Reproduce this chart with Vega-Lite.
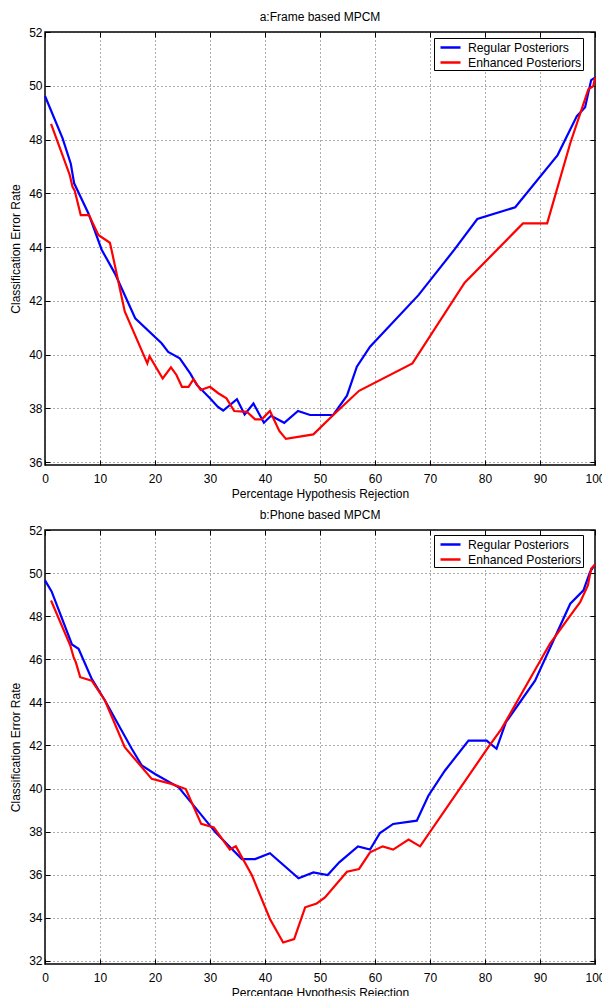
{
  "$schema": "https://vega.github.io/schema/vega-lite/v6.json",
  "background": "white",
  "padding": {"left": 8, "top": 10, "right": 9, "bottom": 0},
  "spacing": 8,
  "config": {
    "font": "Liberation Sans",
    "view": {"stroke": "black", "strokeWidth": 1.5},
    "axis": {
      "domain": false,
      "grid": true,
      "gridColor": "#333333",
      "gridDash": [1, 3],
      "gridWidth": 1,
      "gridOpacity": 0.8,
      "ticks": true,
      "tickSize": -5,
      "tickColor": "black",
      "tickWidth": 1,
      "labelFontSize": 12,
      "labelColor": "black",
      "labelPadding": 8,
      "titleFontSize": 12,
      "titleFontWeight": "normal",
      "titleColor": "black",
      "labelFlush": false,
      "labelOverlap": false
    },
    "title": {"fontSize": 12, "fontWeight": "normal", "color": "black", "offset": 2},
    "legend": {
      "orient": "none",
      "legendX": 389,
      "legendY": 6,
      "padding": 1,
      "strokeColor": "black",
      "fillColor": "white",
      "labelFontSize": 12.2,
      "labelColor": "black",
      "symbolType": "M-1.43,0H1.43",
      "symbolSize": 196,
      "symbolStrokeWidth": 2.5,
      "symbolOffset": 7,
      "labelOffset": 9,
      "rowPadding": 0,
      "title": null
    }
  },
  "resolve": {"legend": {"color": "independent"}},
  "datasets": {
    "a": [
      {"x": 0, "y": 49.62, "series": "Regular Posteriors"},
      {"x": 3.2, "y": 48.04, "series": "Regular Posteriors"},
      {"x": 4.7, "y": 47.09, "series": "Regular Posteriors"},
      {"x": 5.3, "y": 46.37, "series": "Regular Posteriors"},
      {"x": 7.9, "y": 45.25, "series": "Regular Posteriors"},
      {"x": 10.3, "y": 43.9, "series": "Regular Posteriors"},
      {"x": 12.7, "y": 43.02, "series": "Regular Posteriors"},
      {"x": 16.4, "y": 41.35, "series": "Regular Posteriors"},
      {"x": 21.2, "y": 40.42, "series": "Regular Posteriors"},
      {"x": 22.4, "y": 40.1, "series": "Regular Posteriors"},
      {"x": 24.5, "y": 39.86, "series": "Regular Posteriors"},
      {"x": 26.4, "y": 39.3, "series": "Regular Posteriors"},
      {"x": 27.6, "y": 38.87, "series": "Regular Posteriors"},
      {"x": 30, "y": 38.37, "series": "Regular Posteriors"},
      {"x": 31.4, "y": 38.06, "series": "Regular Posteriors"},
      {"x": 32.4, "y": 37.91, "series": "Regular Posteriors"},
      {"x": 34.9, "y": 38.34, "series": "Regular Posteriors"},
      {"x": 36.3, "y": 37.77, "series": "Regular Posteriors"},
      {"x": 37.9, "y": 38.18, "series": "Regular Posteriors"},
      {"x": 39.8, "y": 37.46, "series": "Regular Posteriors"},
      {"x": 41.1, "y": 37.72, "series": "Regular Posteriors"},
      {"x": 43.5, "y": 37.46, "series": "Regular Posteriors"},
      {"x": 46, "y": 37.9, "series": "Regular Posteriors"},
      {"x": 48.2, "y": 37.75, "series": "Regular Posteriors"},
      {"x": 52.4, "y": 37.75, "series": "Regular Posteriors"},
      {"x": 54.9, "y": 38.47, "series": "Regular Posteriors"},
      {"x": 56.7, "y": 39.55, "series": "Regular Posteriors"},
      {"x": 59.1, "y": 40.29, "series": "Regular Posteriors"},
      {"x": 67.9, "y": 42.21, "series": "Regular Posteriors"},
      {"x": 74.5, "y": 43.92, "series": "Regular Posteriors"},
      {"x": 78.6, "y": 45.04, "series": "Regular Posteriors"},
      {"x": 85.5, "y": 45.48, "series": "Regular Posteriors"},
      {"x": 93.2, "y": 47.42, "series": "Regular Posteriors"},
      {"x": 96.7, "y": 48.87, "series": "Regular Posteriors"},
      {"x": 98.2, "y": 49.2, "series": "Regular Posteriors"},
      {"x": 99.3, "y": 50.21, "series": "Regular Posteriors"},
      {"x": 100, "y": 50.3, "series": "Regular Posteriors"},
      {"x": 1.1, "y": 48.58, "series": "Enhanced Posteriors"},
      {"x": 4.5, "y": 46.68, "series": "Enhanced Posteriors"},
      {"x": 5.0, "y": 46.24, "series": "Enhanced Posteriors"},
      {"x": 5.4, "y": 46.1, "series": "Enhanced Posteriors"},
      {"x": 6.5, "y": 45.19, "series": "Enhanced Posteriors"},
      {"x": 8.0, "y": 45.19, "series": "Enhanced Posteriors"},
      {"x": 9.7, "y": 44.45, "series": "Enhanced Posteriors"},
      {"x": 11.8, "y": 44.16, "series": "Enhanced Posteriors"},
      {"x": 12.1, "y": 43.89, "series": "Enhanced Posteriors"},
      {"x": 14.5, "y": 41.6, "series": "Enhanced Posteriors"},
      {"x": 18.6, "y": 39.67, "series": "Enhanced Posteriors"},
      {"x": 19, "y": 39.94, "series": "Enhanced Posteriors"},
      {"x": 21.4, "y": 39.11, "series": "Enhanced Posteriors"},
      {"x": 22.9, "y": 39.52, "series": "Enhanced Posteriors"},
      {"x": 23.9, "y": 39.24, "series": "Enhanced Posteriors"},
      {"x": 24.9, "y": 38.8, "series": "Enhanced Posteriors"},
      {"x": 26.1, "y": 38.8, "series": "Enhanced Posteriors"},
      {"x": 27, "y": 39.08, "series": "Enhanced Posteriors"},
      {"x": 28.3, "y": 38.68, "series": "Enhanced Posteriors"},
      {"x": 30, "y": 38.8, "series": "Enhanced Posteriors"},
      {"x": 31.5, "y": 38.56, "series": "Enhanced Posteriors"},
      {"x": 33, "y": 38.37, "series": "Enhanced Posteriors"},
      {"x": 34.4, "y": 37.9, "series": "Enhanced Posteriors"},
      {"x": 36.7, "y": 37.87, "series": "Enhanced Posteriors"},
      {"x": 38.2, "y": 37.59, "series": "Enhanced Posteriors"},
      {"x": 39.4, "y": 37.59, "series": "Enhanced Posteriors"},
      {"x": 40.9, "y": 37.9, "series": "Enhanced Posteriors"},
      {"x": 42.6, "y": 37.16, "series": "Enhanced Posteriors"},
      {"x": 43.8, "y": 36.86, "series": "Enhanced Posteriors"},
      {"x": 48.8, "y": 37.03, "series": "Enhanced Posteriors"},
      {"x": 52.6, "y": 37.79, "series": "Enhanced Posteriors"},
      {"x": 57.1, "y": 38.65, "series": "Enhanced Posteriors"},
      {"x": 66.8, "y": 39.67, "series": "Enhanced Posteriors"},
      {"x": 76.3, "y": 42.67, "series": "Enhanced Posteriors"},
      {"x": 86.9, "y": 44.88, "series": "Enhanced Posteriors"},
      {"x": 91.3, "y": 44.88, "series": "Enhanced Posteriors"},
      {"x": 95.5, "y": 47.86, "series": "Enhanced Posteriors"},
      {"x": 98.8, "y": 49.87, "series": "Enhanced Posteriors"},
      {"x": 99.7, "y": 49.99, "series": "Enhanced Posteriors"},
      {"x": 100, "y": 50.3, "series": "Enhanced Posteriors"}
    ],
    "b": [
      {"x": 0, "y": 49.66, "series": "Regular Posteriors"},
      {"x": 1.2, "y": 49.15, "series": "Regular Posteriors"},
      {"x": 4.9, "y": 46.69, "series": "Regular Posteriors"},
      {"x": 6.1, "y": 46.49, "series": "Regular Posteriors"},
      {"x": 8.5, "y": 45.09, "series": "Regular Posteriors"},
      {"x": 10.9, "y": 44.09, "series": "Regular Posteriors"},
      {"x": 15.8, "y": 41.84, "series": "Regular Posteriors"},
      {"x": 17.6, "y": 41.07, "series": "Regular Posteriors"},
      {"x": 20, "y": 40.68, "series": "Regular Posteriors"},
      {"x": 24.3, "y": 40.06, "series": "Regular Posteriors"},
      {"x": 27.3, "y": 39.13, "series": "Regular Posteriors"},
      {"x": 31, "y": 37.97, "series": "Regular Posteriors"},
      {"x": 33.4, "y": 37.35, "series": "Regular Posteriors"},
      {"x": 35.8, "y": 36.73, "series": "Regular Posteriors"},
      {"x": 38.2, "y": 36.73, "series": "Regular Posteriors"},
      {"x": 40.9, "y": 37.0, "series": "Regular Posteriors"},
      {"x": 46.1, "y": 35.84, "series": "Regular Posteriors"},
      {"x": 48.8, "y": 36.11, "series": "Regular Posteriors"},
      {"x": 51.4, "y": 35.99, "series": "Regular Posteriors"},
      {"x": 53.5, "y": 36.58, "series": "Regular Posteriors"},
      {"x": 56.9, "y": 37.32, "series": "Regular Posteriors"},
      {"x": 59.1, "y": 37.17, "series": "Regular Posteriors"},
      {"x": 60.9, "y": 37.94, "series": "Regular Posteriors"},
      {"x": 63.3, "y": 38.36, "series": "Regular Posteriors"},
      {"x": 67.6, "y": 38.51, "series": "Regular Posteriors"},
      {"x": 69.7, "y": 39.67, "series": "Regular Posteriors"},
      {"x": 72.7, "y": 40.83, "series": "Regular Posteriors"},
      {"x": 77, "y": 42.23, "series": "Regular Posteriors"},
      {"x": 80.3, "y": 42.23, "series": "Regular Posteriors"},
      {"x": 82.1, "y": 41.85, "series": "Regular Posteriors"},
      {"x": 83.8, "y": 43.08, "series": "Regular Posteriors"},
      {"x": 89.1, "y": 45.01, "series": "Regular Posteriors"},
      {"x": 95.5, "y": 48.58, "series": "Regular Posteriors"},
      {"x": 97.9, "y": 49.2, "series": "Regular Posteriors"},
      {"x": 99.1, "y": 50.05, "series": "Regular Posteriors"},
      {"x": 100, "y": 50.4, "series": "Regular Posteriors"},
      {"x": 1.1, "y": 48.73, "series": "Enhanced Posteriors"},
      {"x": 4.6, "y": 46.64, "series": "Enhanced Posteriors"},
      {"x": 5.2, "y": 46.1, "series": "Enhanced Posteriors"},
      {"x": 5.6, "y": 45.87, "series": "Enhanced Posteriors"},
      {"x": 6.4, "y": 45.17, "series": "Enhanced Posteriors"},
      {"x": 8.5, "y": 45.01, "series": "Enhanced Posteriors"},
      {"x": 10.9, "y": 44.09, "series": "Enhanced Posteriors"},
      {"x": 14.5, "y": 41.92, "series": "Enhanced Posteriors"},
      {"x": 19.4, "y": 40.45, "series": "Enhanced Posteriors"},
      {"x": 23, "y": 40.22, "series": "Enhanced Posteriors"},
      {"x": 25.6, "y": 39.98, "series": "Enhanced Posteriors"},
      {"x": 28.4, "y": 38.36, "series": "Enhanced Posteriors"},
      {"x": 30.7, "y": 38.2, "series": "Enhanced Posteriors"},
      {"x": 33.6, "y": 37.17, "series": "Enhanced Posteriors"},
      {"x": 34.7, "y": 37.32, "series": "Enhanced Posteriors"},
      {"x": 37.6, "y": 35.99, "series": "Enhanced Posteriors"},
      {"x": 40.9, "y": 33.95, "series": "Enhanced Posteriors"},
      {"x": 43.3, "y": 32.86, "series": "Enhanced Posteriors"},
      {"x": 45.3, "y": 33.02, "series": "Enhanced Posteriors"},
      {"x": 47.3, "y": 34.49, "series": "Enhanced Posteriors"},
      {"x": 49.4, "y": 34.67, "series": "Enhanced Posteriors"},
      {"x": 50.9, "y": 34.95, "series": "Enhanced Posteriors"},
      {"x": 54.9, "y": 36.14, "series": "Enhanced Posteriors"},
      {"x": 57.1, "y": 36.27, "series": "Enhanced Posteriors"},
      {"x": 59.1, "y": 37.04, "series": "Enhanced Posteriors"},
      {"x": 61.4, "y": 37.32, "series": "Enhanced Posteriors"},
      {"x": 63.3, "y": 37.17, "series": "Enhanced Posteriors"},
      {"x": 66.1, "y": 37.63, "series": "Enhanced Posteriors"},
      {"x": 68.2, "y": 37.32, "series": "Enhanced Posteriors"},
      {"x": 80.6, "y": 41.92, "series": "Enhanced Posteriors"},
      {"x": 83, "y": 42.77, "series": "Enhanced Posteriors"},
      {"x": 91.8, "y": 46.72, "series": "Enhanced Posteriors"},
      {"x": 95.5, "y": 48.03, "series": "Enhanced Posteriors"},
      {"x": 97.3, "y": 48.65, "series": "Enhanced Posteriors"},
      {"x": 98.7, "y": 49.43, "series": "Enhanced Posteriors"},
      {"x": 99.3, "y": 50.2, "series": "Enhanced Posteriors"},
      {"x": 100, "y": 50.4, "series": "Enhanced Posteriors"}
    ]
  },
  "vconcat": [
    {
      "title": "a:Frame based MPCM",
      "width": 550,
      "height": 433,
      "data": {"name": "a"},
      "resolve": {"axis": {"x": "independent", "y": "independent"}},
      "layer": [
        {
          "mark": {"type": "line", "strokeWidth": 2.2},
          "encoding": {
            "x": {"field": "x", "type": "quantitative", "scale": {"domain": [0, 100], "nice": false}, "axis": {"title": "Percentage Hypothesis Rejection", "values": [0, 10, 20, 30, 40, 50, 60, 70, 80, 90, 100], "titlePadding": 4, "labelPadding": 13}},
            "y": {"field": "y", "type": "quantitative", "scale": {"domain": [35.89, 52], "nice": false, "zero": false}, "axis": {"title": "Classification Error Rate", "values": [36, 38, 40, 42, 44, 46, 48, 50, 52], "titlePadding": 6}},
            "color": {"field": "series", "type": "nominal", "scale": {"domain": ["Regular Posteriors", "Enhanced Posteriors"], "range": ["#0000ff", "#ff0000"]}, "legend": {"orient": "none", "legendX": 389, "legendY": 6, "labelExpr": "datum.label + '  '"}}
          }
        },
        {
          "mark": {"type": "point", "opacity": 0},
          "encoding": {
            "x": {"field": "x", "type": "quantitative", "scale": {"domain": [0, 100], "nice": false}, "axis": {"orient": "top", "title": null, "labels": false, "grid": false, "values": [0, 10, 20, 30, 40, 50, 60, 70, 80, 90, 100]}},
            "y": {"field": "y", "type": "quantitative", "scale": {"domain": [35.89, 52], "nice": false, "zero": false}, "axis": {"orient": "right", "title": null, "labels": false, "grid": false, "values": [36, 38, 40, 42, 44, 46, 48, 50, 52]}}
          }
        }
      ]
    },
    {
      "title": "b:Phone based MPCM",
      "width": 550,
      "height": 434,
      "data": {"name": "b"},
      "resolve": {"axis": {"x": "independent", "y": "independent"}},
      "layer": [
        {
          "mark": {"type": "line", "strokeWidth": 2.2},
          "encoding": {
            "x": {"field": "x", "type": "quantitative", "scale": {"domain": [0, 100], "nice": false}, "axis": {"title": "Percentage Hypothesis Rejection", "values": [0, 10, 20, 30, 40, 50, 60, 70, 80, 90, 100], "titlePadding": 4, "labelPadding": 13}},
            "y": {"field": "y", "type": "quantitative", "scale": {"domain": [31.86, 52], "nice": false, "zero": false}, "axis": {"title": "Classification Error Rate", "values": [32, 34, 36, 38, 40, 42, 44, 46, 48, 50, 52], "titlePadding": 6}},
            "color": {"field": "series", "type": "nominal", "scale": {"domain": ["Regular Posteriors", "Enhanced Posteriors"], "range": ["#0000ff", "#ff0000"]}, "legend": {"orient": "none", "legendX": 389, "legendY": 5, "labelExpr": "datum.label + '  '"}}
          }
        },
        {
          "mark": {"type": "point", "opacity": 0},
          "encoding": {
            "x": {"field": "x", "type": "quantitative", "scale": {"domain": [0, 100], "nice": false}, "axis": {"orient": "top", "title": null, "labels": false, "grid": false, "values": [0, 10, 20, 30, 40, 50, 60, 70, 80, 90, 100]}},
            "y": {"field": "y", "type": "quantitative", "scale": {"domain": [31.86, 52], "nice": false, "zero": false}, "axis": {"orient": "right", "title": null, "labels": false, "grid": false, "values": [32, 34, 36, 38, 40, 42, 44, 46, 48, 50, 52]}}
          }
        }
      ]
    }
  ]
}
